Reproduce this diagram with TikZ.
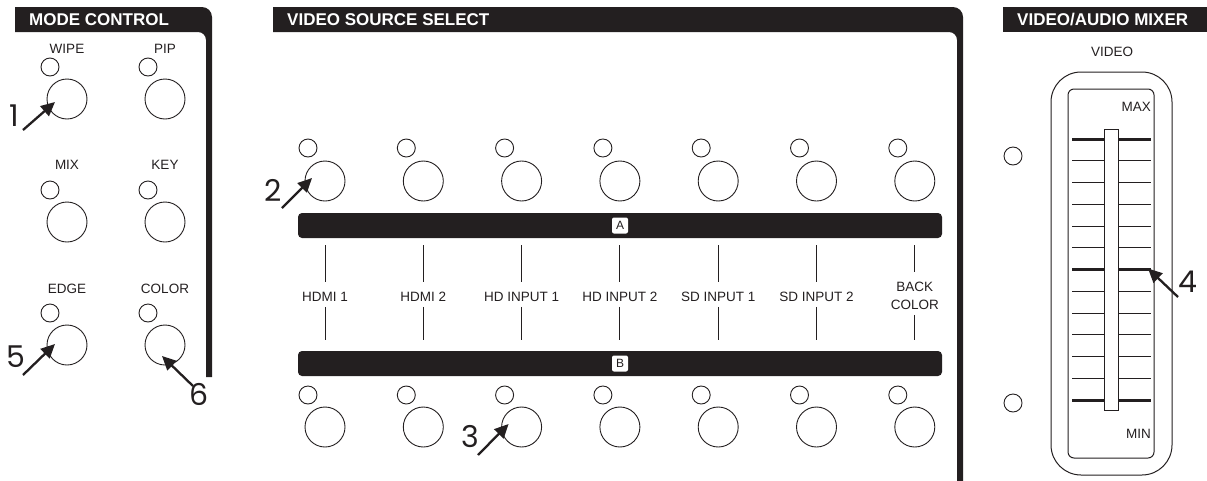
\documentclass[tikz,border=0pt]{standalone}
\usepackage{fontspec}
\setmainfont{Liberation Sans}
\newfontfamily\calloutfont{Poppins}
\usetikzlibrary{positioning,arrows.meta,calc}
\definecolor{panel}{RGB}{35,31,32}

\begin{document}
\begin{tikzpicture}[x=1pt,y=-1pt,on grid,
    button/.style={circle,draw=panel,line width=0.9pt,minimum size=40pt,inner sep=0pt},
    led/.style={circle,draw=panel,line width=0.9pt,minimum size=18pt,inner sep=0pt},
    lbl/.style={font=\fontsize{13.5}{18}\selectfont,text=panel,inner sep=0pt,align=center},
    head/.style={font=\fontsize{17}{17}\selectfont\bfseries,text=white,anchor=west,inner sep=0pt},
    num/.style={font=\calloutfont\fontsize{30}{30}\selectfont,text=panel,inner sep=0pt},
    callout/.style={-{Triangle[length=14pt,width=13pt]},line width=2.3pt,draw=panel},
    bar/.style={fill=panel,rounded corners=4pt,minimum width=644pt,minimum height=25pt,inner sep=0pt},
    tag/.style={fill=white,rounded corners=2pt,minimum size=16pt,inner sep=0pt,
                font=\fontsize{12}{12}\selectfont,text=panel},
    link/.style={draw=panel,line width=1pt},
    tick/.style={draw=panel,line width=1pt},
    major/.style={draw=panel,line width=3pt}]
  \useasboundingbox (0,0) rectangle (1207,480);

  % panel frames
  \fill[panel] (15,7) -- (202,7) arc[start angle=-90,end angle=0,radius=10]
    -- (212,377) -- (206,377) -- (206,40) arc[start angle=0,end angle=-90,radius=8]
    -- (15,32) -- cycle;
  \fill[panel] (273,7) -- (953,7) arc[start angle=-90,end angle=0,radius=10]
    -- (963,482) -- (957,482) -- (957,40) arc[start angle=0,end angle=-90,radius=8]
    -- (273,32) -- cycle;
  \fill[panel] (1003,7) rectangle (1208,32);
  \node[head] (hmode)  at (29,19.5)   {MODE CONTROL};
  \node[head] (hvideo) at (287,19.5)  {VIDEO SOURCE SELECT};
  \node[head] (hmixer) at (1017,19.5) {VIDEO/AUDIO MIXER};

  % mode control
  \foreach \name/\txt/\x/\y/\ly in {wipe/WIPE/67/99/49, pip/PIP/165/99/49,
                                    mix/MIX/67/222/165, key/KEY/165/222/165,
                                    edge/EDGE/67/345/289, color/COLOR/165/345/289} {
    \node[button] (\name) at (\x,\y) {};
    \node[led, above left=32pt and 17pt of \name] (l\name) {};
    \node[lbl] (t\name) at (\x,\ly) {\txt};
  }

  % video source select
  \node[bar] (barA) at (620,225.5) {};
  \node[bar] (barB) at (620,363.5) {};
  \node[tag] (tagA) at (barA.center) {A};
  \node[tag] (tagB) at (barB.center) {B};
  \foreach \i/\src in {0/HDMI 1,1/HDMI 2,2/HD INPUT 1,3/HD INPUT 2,4/SD INPUT 1,5/SD INPUT 2} {
    \node[lbl] (src\i) at (325+98.3*\i,297) {\src};
  }
  \node[lbl] (src6) at (325+98.3*6,296) {BACK\\COLOR};
  \foreach \i in {0,...,6} {
    \node[button] (a\i) at (325+98.3*\i,181) {};
    \node[led, above left=33pt and 17pt of a\i] (la\i) {};
    \node[button] (b\i) at (325+98.3*\i,427) {};
    \node[led, above left=32pt and 17pt of b\i] (lb\i) {};
    \draw[link, shorten <=7pt, shorten >=10pt] (src\i.north |- barA.south) -- (src\i.north);
    \draw[link, shorten <=5pt, shorten >=11pt] (src\i.south) -- (src\i.south |- barB.north);
  }

  % video/audio mixer
  \node[lbl] (tvideo) at (1112,52) {VIDEO};
  \draw[panel,line width=1pt,rounded corners=30pt] (1051,72) rectangle (1172,475);
  \draw[panel,line width=1pt,rounded corners=6pt] (1068,89) rectangle (1154,458);
  \node[lbl,anchor=east] (tmax) at (1151,107) {MAX};
  \node[lbl,anchor=east] (tmin) at (1151,434) {MIN};
  \foreach \k in {0,...,12} {
    \ifnum\k=0 \def\w{major}\else\ifnum\k=6 \def\w{major}\else\ifnum\k=12 \def\w{major}\else\def\w{tick}\fi\fi\fi
    \draw[\w] (1072,139+21.75*\k) -- (1151,139+21.75*\k);
  }
  \draw[panel,fill=white,line width=0.8pt] (1104,129) rectangle (1118,410);
  \node[led] (lvideo) at (1013,156) {};
  \node[led] (laudio) at (1013,403) {};

  % callouts
  \node[num] (n1) at (14,116) {1};
  \node[num] (n2) at (273,190) {2};
  \node[num] (n3) at (470,437) {3};
  \node[num] (n4) at (1188,282) {4};
  \node[num] (n5) at (16,357) {5};
  \node[num] (n6) at (199,394) {6};
  \coordinate (c1) at (23,130);   \coordinate (c2) at (282,208);
  \coordinate (c3) at (478,455);  \coordinate (c4) at (1178,297);
  \coordinate (c5) at (23,375);   \coordinate (c6) at (193,386);
  \draw[callout] (c1) -- ([shift={(-12,3)}]wipe.center);
  \draw[callout] (c2) -- ([shift={(-13,-3)}]a0.center);
  \draw[callout] (c3) -- ([shift={(-13,-3)}]b2.center);
  \draw[callout] (c4) -- (1148,268.5);
  \draw[callout] (c5) -- ([shift={(-12,-1)}]edge.center);
  \draw[callout] (c6) -- ([shift={(-3,11)}]color.center);
\end{tikzpicture}
\end{document}
